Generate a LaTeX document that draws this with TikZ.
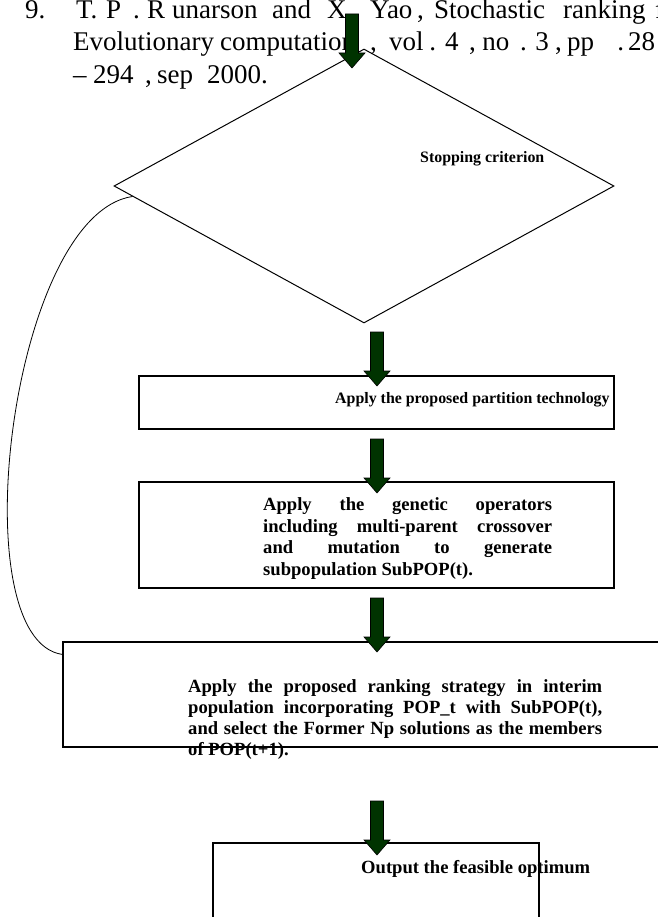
\documentclass[tikz,border=0pt]{standalone}
\usepackage{fontspec}
\setmainfont{Liberation Serif}
\usetikzlibrary{shapes.geometric,calc}
\definecolor{arrowgreen}{RGB}{0,51,0}
\newcommand\wrd[2]{\rlap{#2}\hspace{#1pt}}
\newcommand\blockarrow[1]{%
  \filldraw[arrowstyle]
   ($(#1)+(-6.5,-54)$) -- ($(#1)+(6.5,-54)$) -- ($(#1)+(6.5,-15)$) -- ($(#1)+(13,-15)$)
   -- (#1) -- ($(#1)+(-13,-15)$) -- ($(#1)+(-6.5,-15)$) -- cycle;}
\begin{document}
\begin{tikzpicture}[x=1pt,y=-1pt,
  reftext/.style={inner sep=0pt, anchor=base west, font=\fontsize{27pt}{32pt}\selectfont},
  smalltext/.style={inner sep=0pt, anchor=base west, font=\bfseries\fontsize{15.9pt}{19pt}\selectfont},
  bigtext/.style={inner sep=0pt, anchor=base west, font=\bfseries\fontsize{18.6pt}{21.6pt}\selectfont},
  boxshape/.style={draw=black, line width=1.1pt, rectangle, inner sep=0pt},
  arrowstyle/.style={fill=arrowgreen, draw=black, line width=0.6pt},
  loopline/.style={draw=black, line width=0.8pt}]
\useasboundingbox (0,0) rectangle (657,917);

% reference text at the top
\node[reftext] (ref1) at (25,18.5) {\wrd{51}{9.}\wrd{30}{T.}\wrd{27}{P}\wrd{14}{.}\wrd{25}{R}\wrd{100}{unarson}\wrd{55}{and}\wrd{20}{X}\wrd{23}{.}\wrd{47}{Yao}\wrd{17}{,}\wrd{129}{Stochastic}\wrd{92}{ranking}f};
\node[reftext] (ref2) at (73,50.7) {\wrd{147}{Evolutionary}\wrd{150}{computation}\wrd{19}{,}\wrd{40}{vol}\wrd{16}{.}\wrd{24}{4}\wrd{13}{,}\wrd{38}{no}\wrd{15}{.}\wrd{20}{3}\wrd{12}{,}\wrd{50}{pp}\wrd{11}{.}28};
\node[reftext] (ref3) at (73,83.3) {\wrd{20}{–}\wrd{52}{294}\wrd{12}{,}\wrd{50}{sep}2000.};

% shapes
\node[draw=black, line width=1pt, diamond, inner sep=0pt, minimum width=500pt, minimum height=274pt] (stop) at (364,186) {};
\node[boxshape, minimum width=475pt, minimum height=53pt] (part) at (376.5,402.5) {};
\node[boxshape, minimum width=475pt, minimum height=106pt] (gen) at (376.5,535) {};
\node[boxshape, minimum width=637pt, minimum height=105pt] (rank) at (381.5,694.5) {};
\node[boxshape, minimum width=326pt, minimum height=117pt] (out) at (376,901.5) {};

% texts
\node[smalltext] (stopT) at (420,163) {Stopping criterion};
\node[smalltext] (partT) at (335,403) {Apply the proposed partition technology};
\node[bigtext] (genT) at (263,510.5) {\parbox[t]{289pt}{%
  \makebox[289pt][s]{Apply the genetic operators}\\
  \makebox[289pt][s]{including multi-parent crossover}\\
  \makebox[289pt][s]{and mutation to generate}\\
  subpopulation SubPOP(t).}};
\node[bigtext] (rankT) at (188,692) {\parbox[t]{414pt}{\fontsize{18.6pt}{21.3pt}\selectfont
  \makebox[414pt][s]{Apply the proposed ranking strategy in interim}\\
  \makebox[414pt][s]{population incorporating POP\_t with SubPOP(t),}\\
  \makebox[414pt][s]{and select the Former Np solutions as the members}\\
  of POP(t+1).}};
\node[bigtext] (outT) at (361,873) {Output the feasible optimum};

% loop-back curve
\coordinate (loopstart) at ($(stop.west)!0.076!(stop.south)$);
\coordinate (loopend) at ($(rank.north west)+(0,13)$);
\draw[loopline] (loopstart) .. controls (10,215) and (-40,640) .. (loopend);

% block arrows
\coordinate (a1) at (352,68);
\coordinate (a2) at (377,386);
\coordinate (a3) at (377,493);
\coordinate (a4) at (377,652);
\coordinate (a5) at (377,855);
\blockarrow{a1}
\blockarrow{a2}
\blockarrow{a3}
\blockarrow{a4}
\blockarrow{a5}
\end{tikzpicture}
\end{document}
